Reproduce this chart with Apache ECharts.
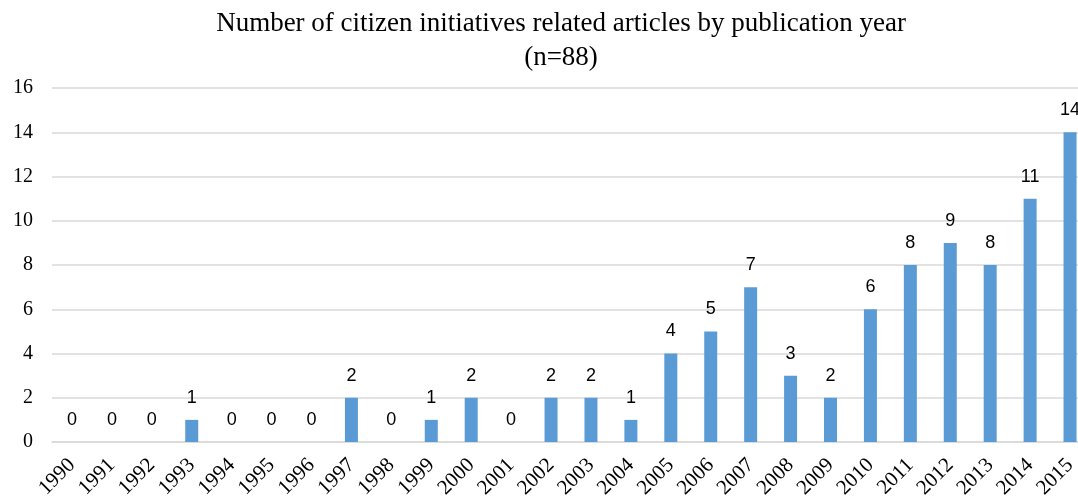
<!DOCTYPE html>
<html>
<head>
<meta charset="utf-8">
<script src="https://cdn.jsdelivr.net/npm/echarts@6/dist/echarts.min.js"></script>
<style>html,body{margin:0;padding:0;background:#fff;}#c{width:1078px;height:500px;}</style>
</head>
<body>
<div id="c"></div>
<script>
const years = ['1990','1991','1992','1993','1994','1995','1996','1997','1998','1999','2000','2001','2002','2003','2004','2005','2006','2007','2008','2009','2010','2011','2012','2013','2014','2015'];
const articles = [0,0,0,1,0,0,0,2,0,1,2,0,2,2,1,4,5,7,3,2,6,8,9,8,11,14];
const titleText = 'Number of citizen initiatives related articles by publication year\n(n=88)';

const chart = echarts.init(document.getElementById('c'));
chart.setOption({
  animation: false,
  title: {
    text: titleText,
    left: 556, top: 2, textAlign: 'center',
    textStyle: { fontFamily: 'Liberation Serif', fontSize: 27, fontWeight: 'normal', color: '#000', lineHeight: 34 }
  },
  grid: { left: 52, top: 88, width: 1038, height: 354, containLabel: false, outerBoundsMode: 'none' },
  xAxis: {
    type: 'category', data: years,
    axisLine: { show: true, lineStyle: { color: '#d9d9d9', width: 1.5 } },
    axisTick: { show: false },
    axisLabel: { rotate: 45, interval: 0, fontFamily: 'Liberation Serif', fontSize: 21, color: '#000', margin: 20 }
  },
  yAxis: {
    type: 'value', min: 0, max: 16, interval: 2,
    axisLine: { show: false }, axisTick: { show: false },
    splitLine: { lineStyle: { color: '#d9d9d9', width: 1.5 } },
    axisLabel: { fontFamily: 'Liberation Serif', fontSize: 20, color: '#000', margin: 19 }
  },
  series: [{
    type: 'bar', data: articles, barWidth: 13,
    itemStyle: { color: '#5b9bd5' },
    label: { show: true, position: 'top', distance: 13, fontFamily: 'Liberation Sans', fontSize: 18, color: '#000' }
  }]
});
</script>
</body>
</html>
